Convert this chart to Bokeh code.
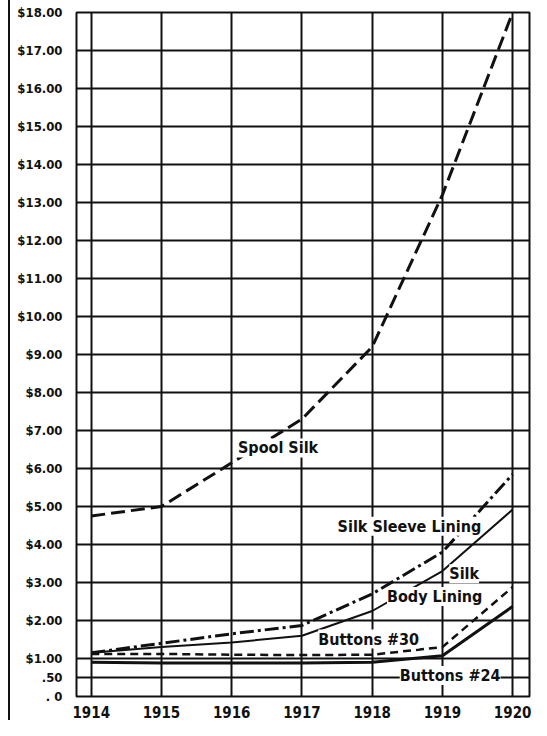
from bokeh.plotting import figure
from bokeh.models import FixedTicker, Label, Range1d
from bokeh.embed import file_html
from bokeh.resources import INLINE

# ---- data ----
years = [1914, 1915, 1916, 1917, 1918, 1919, 1920]
year_labels = ["1914", "1915", "1916", "1917", "1918", "1919", "1920"]
spool_silk = [4.75, 5.0, 6.15, 7.3, 9.2, 13.2, 18.0]
silk_sleeve_lining = [1.15, 1.4, 1.65, 1.87, 2.7, 3.8, 5.85]
silk_body_lining = [1.15, 1.3, 1.42, 1.6, 2.25, 3.3, 4.92]
buttons_30 = [1.12, 1.12, 1.1, 1.09, 1.1, 1.3, 2.88]
buttons_24 = [0.9, 0.88, 0.88, 0.88, 0.9, 1.07, 2.37]
y_ticks = [0, 0.5] + [float(v) for v in range(1, 19)]
y_labels = [". 0", ".50"] + ["$%d.00" % v for v in range(1, 19)]

FONT = "'DejaVu Sans Condensed', 'Liberation Sans Narrow', 'Liberation Sans'"
INK = "#111111"

p = figure(width=531, height=720, output_backend="svg", toolbar_location=None,
           x_range=Range1d(1913.79, 1920.24), y_range=Range1d(0, 18),
           min_border_left=76, min_border_right=2, min_border_top=12,
           min_border_bottom=20)

p.outline_line_color = INK
p.outline_line_width = 2
p.background_fill_color = "white"
p.border_fill_alpha = 0
# thin page rule at the far left, drawn as the element's background
p.styles = {"background": "linear-gradient(90deg, #ffffff 0px, #ffffff 8px, #111111 8px, "
                          "#111111 10px, #ffffff 10px, #ffffff 100%)"}

# axes
p.xaxis.ticker = FixedTicker(ticks=years)
p.xaxis.major_label_overrides = {y: l for y, l in zip(years, year_labels)}
p.yaxis.ticker = FixedTicker(ticks=y_ticks)
p.yaxis.major_label_overrides = {t: l for t, l in zip(y_ticks, y_labels)}
for ax in (p.xaxis[0], p.yaxis[0]):
    ax.axis_line_color = None
    ax.major_tick_line_color = None
    ax.minor_tick_line_color = None
    ax.major_label_text_font = FONT
    ax.major_label_text_font_style = "bold"
    ax.major_label_text_color = INK
p.xaxis.major_label_standoff = 3
p.yaxis.major_label_standoff = 8
p.xaxis.major_label_text_font_size = "15px"
p.yaxis.major_label_text_font_size = "13px"

# grid
p.xgrid.ticker = FixedTicker(ticks=years)
p.ygrid.ticker = FixedTicker(ticks=y_ticks)
for g in (p.xgrid[0], p.ygrid[0]):
    g.grid_line_color = INK
    g.grid_line_width = 2
    g.grid_line_alpha = 1.0

# series
p.line(years, spool_silk, line_color=INK, line_width=3, line_dash="14 6")
p.line(years, silk_sleeve_lining, line_color=INK, line_width=3, line_dash="14 4 3 4")
p.line(years, silk_body_lining, line_color=INK, line_width=2)
p.line(years, buttons_30, line_color=INK, line_width=2.5, line_dash="8 5")
p.line(years, buttons_24, line_color=INK, line_width=3)

# labels
def lab(x, y, t):
    p.add_layout(Label(x=x, y=y, text=t, text_font=FONT, text_font_style="bold",
                       text_font_size="16px", text_color=INK,
                       text_align="center", text_baseline="middle",
                       background_fill_color="white"))

lab(1916.66, 6.54, "Spool Silk")
lab(1918.53, 4.48, "Silk Sleeve Lining")
lab(1919.31, 3.23, "Silk")
lab(1918.89, 2.63, "Body Lining")
lab(1917.95, 1.51, "Buttons #30")
lab(1919.11, 0.55, "Buttons #24")

open("out.html", "w").write(file_html(p, INLINE))
